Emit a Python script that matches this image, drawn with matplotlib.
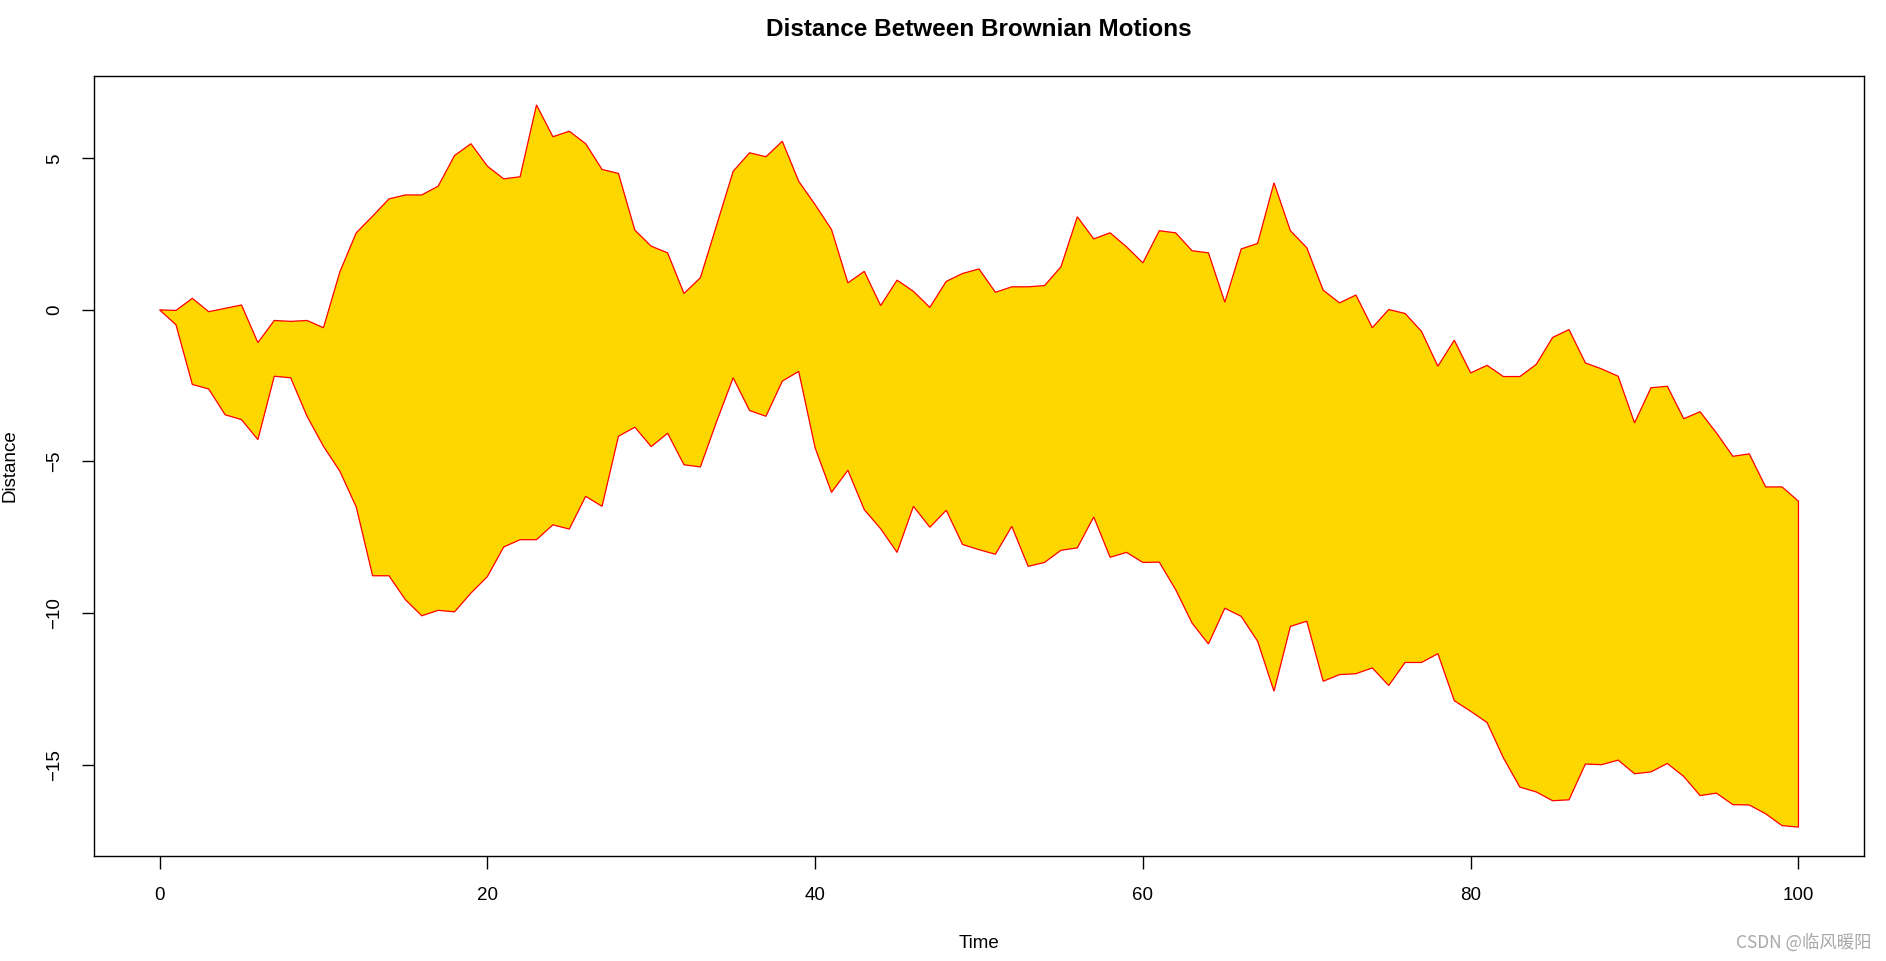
import matplotlib
matplotlib.use('Agg')
import matplotlib.pyplot as plt
import numpy as np

# time steps and the two brownian paths
time = np.arange(0, 101)
upper = [0.00, -0.02, 0.38, -0.06, 0.05, 0.16, -1.08, -0.35, -0.38, -0.35,
         -0.59, 1.25, 2.54, 3.09, 3.66, 3.79, 3.79, 4.08, 5.09, 5.48,
         4.74, 4.32, 4.39, 6.76, 5.71, 5.89, 5.48, 4.63, 4.50, 2.63,
         2.10, 1.88, 0.54, 1.06, 2.81, 4.57, 5.18, 5.05, 5.56, 4.24,
         3.47, 2.65, 0.89, 1.27, 0.14, 0.98, 0.61, 0.08, 0.94, 1.20,
         1.35, 0.58, 0.76, 0.76, 0.80, 1.42, 3.07, 2.34, 2.54, 2.08,
         1.55, 2.61, 2.54, 1.95, 1.88, 0.25, 2.01, 2.19, 4.19, 2.61,
         2.05, 0.65, 0.23, 0.49, -0.59, 0.01, -0.12, -0.71, -1.86, -1.00,
         -2.08, -1.83, -2.20, -2.20, -1.80, -0.91, -0.65, -1.75, -1.95, -2.19,
         -3.73, -2.57, -2.52, -3.59, -3.36, -4.06, -4.83, -4.75, -5.84, -5.84,
         -6.31]
lower = [0.00, -0.49, -2.46, -2.61, -3.46, -3.62, -4.28, -2.19, -2.24, -3.51,
         -4.50, -5.32, -6.50, -8.77, -8.77, -9.56, -10.09, -9.91, -9.96, -9.34,
         -8.80, -7.82, -7.58, -7.58, -7.09, -7.23, -6.15, -6.48, -4.17, -3.87,
         -4.51, -4.07, -5.11, -5.18, -3.67, -2.24, -3.32, -3.51, -2.35, -2.03,
         -4.55, -6.02, -5.29, -6.59, -7.22, -8.00, -6.48, -7.17, -6.61, -7.74,
         -7.91, -8.06, -7.14, -8.46, -8.33, -7.93, -7.85, -6.83, -8.16, -8.00,
         -8.33, -8.32, -9.23, -10.33, -11.02, -9.84, -10.11, -10.93, -12.58, -10.44,
         -10.27, -12.25, -12.03, -12.00, -11.81, -12.39, -11.63, -11.63, -11.34, -12.89,
         -13.24, -13.61, -14.78, -15.74, -15.90, -16.19, -16.16, -14.98, -15.00, -14.85,
         -15.30, -15.24, -14.96, -15.39, -16.02, -15.94, -16.32, -16.33, -16.62, -17.01,
         -17.06]

xticks = [0, 20, 40, 60, 80, 100]
yticks = [-15, -10, -5, 0, 5]

plt.rcParams['font.family'] = ['Liberation Sans', 'DejaVu Sans']

W, H = 1886, 961
fig = plt.figure(figsize=(W / 100, H / 100), dpi=100)
ax = fig.add_axes([94 / W, 1 - 856 / H, (1864 - 94) / W, (856 - 76) / H])

# polygon: upper path forward, lower path backward
px = np.concatenate([time, time[::-1]])
py = np.concatenate([upper, lower[::-1]])
ax.fill(px, py, facecolor='#FFD700', edgecolor='red', linewidth=0.9)

ymin, ymax = min(lower), max(upper)
pad = (ymax - ymin) * 0.04
ax.set_xlim(-4, 104)
ax.set_ylim(ymin - pad, ymax + pad)

ax.set_xticks(xticks)
ax.set_yticks(yticks)
ax.tick_params(direction='out', length=9, width=1, labelsize=13.5, pad=13)
for lab in ax.get_yticklabels():
    lab.set_rotation(90)
    lab.set_va('center')
for s in ax.spines.values():
    s.set_linewidth(1)

ax.set_xlabel('Time', fontsize=13.5, labelpad=23)
ax.set_ylabel('Distance', fontsize=13.5, labelpad=20)
# title centred over the plot region, like base R
fig.text((94 + 1864) / 2 / W, 1 - 29 / H, 'Distance Between Brownian Motions',
         ha='center', va='center', fontsize=17.5, fontweight='bold')

fig.text(1872 / W, 1 - 942 / H, 'CSDN @临风暖阳', ha='right', va='center', fontsize=12.5,
         color='#a8a8a8', family=['Noto Sans CJK SC', 'DejaVu Sans'])

fig.savefig('out.png', dpi=100)
